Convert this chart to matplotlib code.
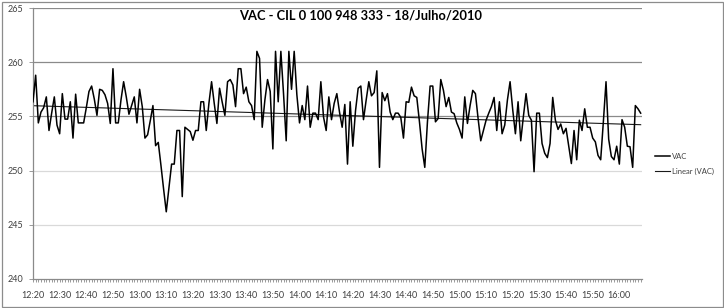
import matplotlib
matplotlib.use("Agg")
import matplotlib.pyplot as plt
import numpy as np
from matplotlib.patches import Rectangle
from matplotlib.ticker import FixedLocator, MultipleLocator

plt.rcParams['font.family'] = ['Lato', 'DejaVu Sans']

title = "VAC - CIL 0 100 948 333 - 18/Julho/2010"
series_name = "VAC"
trend_name = "Linear (VAC)"

# one reading per minute from 12:20
vac = [
    256.35, 258.8, 254.4, 255.4, 255.8, 256.8, 253.7, 255.3, 256.8, 254.2,
    253.4, 257.1, 254.75, 254.75, 256.35, 253.0, 257.05, 254.4, 254.4, 254.4,
    255.8, 257.3, 257.8, 256.6, 255.1, 257.5, 257.4, 257.0, 256.2, 254.35,
    259.4, 254.4, 254.4, 256.5, 258.2, 256.8, 255.2, 256.0, 256.8, 254.4,
    257.5, 255.9, 253.0, 253.3, 254.6, 256.0, 252.3, 252.6, 250.5, 248.3,
    246.2, 248.4, 250.6, 250.6, 253.7, 253.7, 247.6, 254.0, 253.8, 253.6,
    252.8, 253.7, 253.7, 256.35, 256.35, 253.7, 256.2, 258.2, 256.2, 254.35,
    257.6, 256.3, 255.1, 258.2, 258.4, 257.9, 255.9, 259.4, 259.4, 257.1,
    257.7, 256.35, 256.0, 254.7, 261.0, 260.35, 254.0, 256.5, 258.4, 257.3,
    252.0, 261.0, 256.35, 261.0, 257.1, 252.75, 261.0, 257.5, 261.0, 257.0,
    254.4, 256.0, 254.7, 257.8, 254.0, 255.3, 255.3, 254.7, 258.2, 254.95,
    253.7, 256.8, 254.7, 256.2, 257.1, 255.4, 254.0, 256.1, 250.6, 256.35,
    252.25, 255.5, 257.6, 257.8, 254.7, 256.5, 258.2, 256.9, 257.2, 259.2,
    250.3, 257.2, 256.45, 257.1, 255.4, 254.7, 255.3, 255.3, 254.9, 253.0,
    256.35, 256.3, 257.7, 256.9, 256.75, 254.5, 252.0, 250.3, 254.5, 257.8,
    257.8, 254.5, 254.8, 258.4, 257.4, 255.9, 256.75, 255.4, 255.25, 254.4,
    253.8, 253.0, 256.8, 254.35, 256.0, 257.4, 257.1, 254.8, 252.75, 253.7,
    254.65, 255.3, 255.9, 256.75, 253.7, 256.35, 253.4, 254.2, 256.5, 258.2,
    255.6, 253.4, 256.35, 252.75, 255.0, 257.1, 255.1, 254.65, 249.9, 255.3,
    255.3, 252.5, 251.6, 251.2, 252.5, 256.75, 254.65, 253.8, 254.3, 253.4,
    253.9, 252.3, 250.65, 253.7, 251.0, 254.65, 253.7, 255.7, 254.0, 254.0,
    253.0, 252.65, 251.4, 251.0, 254.5, 258.2, 252.9, 251.3, 251.0, 252.25,
    250.6, 254.7, 254.0, 252.25, 252.2, 250.3, 256.0, 255.7, 255.3,
]

time_labels = ["12:20", "12:30", "12:40", "12:50", "13:00", "13:10", "13:20",
               "13:30", "13:40", "13:50", "14:00", "14:10", "14:20", "14:30",
               "14:40", "14:50", "15:00", "15:10", "15:20", "15:30", "15:40",
               "15:50", "16:00"]
label_step = 10  # minutes between labels

y_ticks = [240, 245, 250, 255, 260, 265]

W, H = 724, 308
fig = plt.figure(figsize=(W / 100, H / 100), dpi=100)
fig.patch.set_facecolor('white')
fig.add_artist(Rectangle((1.5 / W, 1.5 / H), (W - 3) / W, (H - 3) / H,
                         transform=fig.transFigure, fill=False,
                         edgecolor='#8c8c8c', linewidth=0.9))

ax = fig.add_axes([33 / W, 1 - 279 / H, (642 - 33) / W, (279 - 8) / H])

x = np.arange(len(vac))
y = np.array(vac)

# gridlines
for v in y_ticks[1:]:
    col = '#8a8a8a' if v >= 255 else '#d9d9d9'
    ax.axhline(v, color=col, linewidth=0.9, zorder=1)

ax.plot(x, y, color='black', linewidth=1.1, zorder=3, label=series_name)
coef = np.polyfit(x, y, 1)
ax.plot(x, np.polyval(coef, x), color='#1a1a1a', linewidth=0.8, zorder=2,
        label=trend_name)

ax.set_xlim(0, len(vac) - 0.5)
ax.set_ylim(240, 265)
ax.set_yticks(y_ticks)
ax.set_yticklabels([str(v) for v in y_ticks], fontsize=6.5, color='#404040')

major_pos = [i * label_step for i in range(len(time_labels))]
ax.xaxis.set_major_locator(FixedLocator(major_pos))
ax.set_xticklabels(time_labels, fontsize=6.5, color='#404040')
ax.xaxis.set_minor_locator(MultipleLocator(1))
ax.tick_params(axis='x', which='both', length=2.5, width=0.6, color='#8a8a8a',
               direction='out', pad=6)
ax.tick_params(axis='y', length=3, width=0.6, color='#8a8a8a', pad=4)

for s in ['top', 'right']:
    ax.spines[s].set_visible(False)
for s in ['left', 'bottom']:
    ax.spines[s].set_color('#8a8a8a')
    ax.spines[s].set_linewidth(0.9)

fig.text(361 / W, 1 - 16 / H, title, ha='center', va='center',
         fontsize=9.3, fontweight='bold', color='black')

leg = fig.legend(loc='upper left', bbox_to_anchor=(652 / W, 1 - 150 / H),
                 frameon=False, fontsize=5.5, handlelength=2.0,
                 handletextpad=0.2, labelspacing=1.0, borderaxespad=0)
for t in leg.get_texts():
    t.set_color('#404040')

fig.savefig('out.png', dpi=100, facecolor='white')
